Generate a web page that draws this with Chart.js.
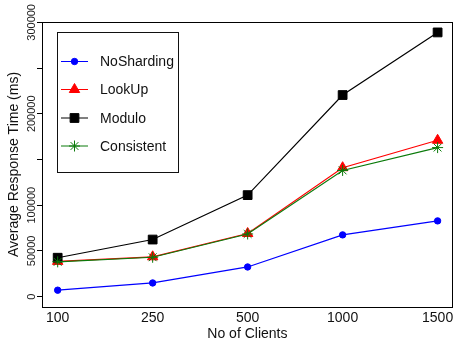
<!DOCTYPE html>
<html>
<head>
<meta charset="utf-8">
<script src="https://cdn.jsdelivr.net/npm/chart.js@4/dist/chart.umd.min.js"></script>
<style>
  html, body { margin: 0; padding: 0; background: #fff; }
  #wrap { width: 460px; height: 347px; }
</style>
</head>
<body>
<div id="wrap"><canvas id="lineChart" width="460" height="347"></canvas></div>
<script>
var clients = ["100", "250", "500", "1000", "1500"];
var noSharding = [7000, 14900, 32400, 67500, 82800];
var lookUp = [38500, 43500, 69000, 141000, 171000];
var modulo = [42500, 62400, 111000, 220500, 289000];
var consistent = [38000, 43000, 68500, 138000, 163000];
var yTicks = [0, 50000, 100000, 150000, 200000, 250000, 300000];
var yTickLabels = ["0", "50000", "100000", "", "200000", "", "300000"];

var fontFamily = "'Liberation Sans', Arial, Helvetica, sans-serif";

function toPoints(values) {
  return values.map(function (v, i) { return { x: i, y: v }; });
}

// box round the plot, rotated y labels and the legend inside the plot
var boxPlugin = {
  id: "boxPlugin",
  afterDraw: function (chart) {
    var ctx = chart.ctx;
    var area = chart.chartArea;
    var yScale = chart.scales.y;
    ctx.save();
    ctx.strokeStyle = "#000";
    ctx.lineWidth = 1;
    ctx.strokeRect(Math.round(area.left) + 0.5, Math.round(area.top) + 0.5,
      Math.round(area.right - area.left) - 1, Math.round(area.bottom - area.top));

    ctx.fillStyle = "#222";
    ctx.font = "11px " + fontFamily;
    ctx.textAlign = "center";
    ctx.textBaseline = "middle";
    for (var i = 0; i < yTicks.length; i++) {
      if (!yTickLabels[i]) continue;
      var py = yScale.getPixelForValue(yTicks[i]);
      ctx.save();
      ctx.translate(32, py);
      ctx.rotate(-Math.PI / 2);
      ctx.fillText(yTickLabels[i], 0, 0);
      ctx.restore();
    }

    // legend
    ctx.strokeStyle = "#111";
    ctx.strokeRect(57.5, 32.5, 121, 140);
    var rows = [61.5, 89.5, 118, 146];
    ctx.font = "14px " + fontFamily;
    ctx.textAlign = "left";
    chart.data.datasets.forEach(function (ds, k) {
      var ry = rows[k];
      ctx.strokeStyle = ds.borderColor;
      ctx.lineWidth = 1;
      ctx.beginPath();
      ctx.moveTo(61, ry);
      ctx.lineTo(88, ry);
      ctx.stroke();
      ctx.fillStyle = ds.pointBackgroundColor;
      ctx.strokeStyle = ds.pointBorderColor;
      Chart.helpers.drawPoint(ctx, {
        pointStyle: ds.pointStyle,
        radius: ds.pointRadius,
        borderWidth: ds.pointBorderWidth,
        rotation: 0
      }, 74.5, ry);
      ctx.fillStyle = "#111";
      ctx.fillText(ds.label, 100, ry + 1);
    });
    ctx.restore();
  }
};

function makeSet(label, values, color, style, radius, order) {
  return {
    label: label,
    data: toPoints(values),
    borderColor: color,
    backgroundColor: color,
    pointBackgroundColor: color,
    pointBorderColor: color,
    borderWidth: 1.2,
    pointStyle: style,
    pointRadius: radius,
    pointHoverRadius: radius,
    pointBorderWidth: 1,
    tension: 0,
    order: order
  };
}

var context = document.getElementById("lineChart").getContext("2d");
var myChart = new Chart(context, {
  type: "line",
  data: {
    datasets: [
      makeSet("NoSharding", noSharding, "#0000ff", "circle", 3.2, 3),
      makeSet("LookUp", lookUp, "#ff0000", "triangle", 6, 2),
      makeSet("Modulo", modulo, "#000000", "rect", 6.2, 1),
      makeSet("Consistent", consistent, "#0a7a0a", "star", 5.5, 0)
    ]
  },
  options: {
    responsive: false,
    animation: false,
    devicePixelRatio: 1,
    layout: { padding: { top: 22, right: 1, bottom: 0, left: 0 } },
    plugins: {
      legend: { display: false },
      tooltip: { enabled: false }
    },
    scales: {
      x: {
        type: "linear",
        min: -0.165,
        max: 4.16,
        afterBuildTicks: function (scale) {
          scale.ticks = clients.map(function (c, i) { return { value: i }; });
        },
        afterFit: function (scale) { scale.height = 40; },
        grid: { display: false, drawTicks: false },
        border: { display: true, color: "#000", width: 1 },
        ticks: {
          color: "#111",
          padding: 3,
          maxRotation: 0,
          font: { family: fontFamily, size: 14 },
          callback: function (value) { return clients[value]; }
        },
        title: {
          display: true,
          text: "No of Clients",
          color: "#111",
          padding: { top: 0, bottom: 4 },
          font: { family: fontFamily, size: 14 }
        }
      },
      y: {
        min: -11400,
        max: 300400,
        afterBuildTicks: function (scale) {
          scale.ticks = yTicks.map(function (v) { return { value: v }; });
        },
        afterFit: function (scale) { scale.width = 42; },
        grid: { drawOnChartArea: false, drawTicks: true, tickLength: 5, color: "#000" },
        border: { display: true, color: "#000", width: 1 },
        ticks: { display: false },
        title: {
          display: true,
          text: "Average Response Time (ms)",
          color: "#111",
          padding: { top: 6, bottom: 0 },
          font: { family: fontFamily, size: 14 }
        }
      }
    }
  },
  plugins: [boxPlugin]
});
</script>
</body>
</html>
